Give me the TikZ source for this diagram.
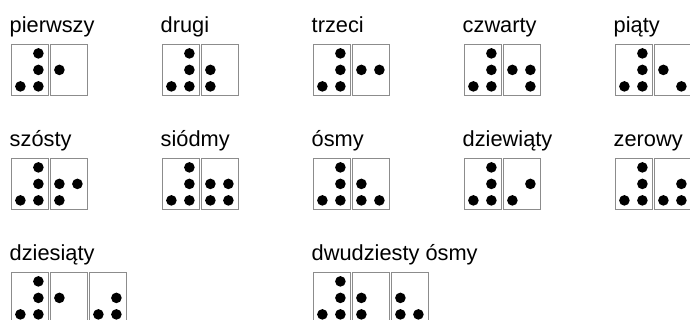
\documentclass[tikz,border=0pt]{standalone}
\usepackage{fontspec}
\setmainfont{Liberation Sans}
\usetikzlibrary{positioning}

% dots of one braille cell, numbered 1-3 down the left column, 4-6 down the right
\newcommand{\brailledots}[2]{%
    \foreach \d in #2{
        \pgfmathsetmacro\dx{ifthenelse(\d>3,9,-9)}
        \pgfmathsetmacro\dy{16.5*(mod(\d-1,3)-1)}
        \fill[black] ([shift={(\dx,\dy)}]#1.center) circle[radius=5.3pt];
    }%
}

\begin{document}
\begin{tikzpicture}[
    x=1pt, y=-1pt,
    lbl/.style  = {font=\fontsize{21.8}{26}\selectfont, anchor=base west, inner sep=0pt},
    cell/.style = {draw=black!45, line width=0.8pt, minimum width=37pt, minimum height=51pt, inner sep=0pt},
]
\useasboundingbox (0,0) rectangle (690,320);

%% ---- Ordinals 1-9 and 0: number sign + lower digit ----

\foreach \lab/\col/\row/\dig [count=\k] in {
    pierwszy/0/0/{2}, drugi/1/0/{2,3}, trzeci/2/0/{2,5}, czwarty/3/0/{2,5,6}, piąty/4/0/{2,6},
    szósty/0/1/{2,3,5}, siódmy/1/1/{2,3,5,6}, ósmy/2/1/{2,3,6}, dziewiąty/3/1/{3,5}, zerowy/4/1/{3,5,6}}{
    \node[lbl] (L\k) at ({9.5+151*\col}, {33+114*\row}) {\lab};
    \node[cell, anchor=north west] (S\k) at ({10.5+151*\col}, {44+114*\row}) {};
    \node[cell, right=1.2pt of S\k] (D\k) {};
    \brailledots{S\k}{{3,4,5,6}}
    \brailledots{D\k}{\dig}
}

%% ---- Two-digit ordinals ----

\node[lbl] (L11) at (9.5, 260) {dziesiąty};
\node[cell, anchor=north west] (S11) at (10.5, 272) {};
\node[cell, right=1.2pt of S11] (A11) {};
\node[cell, right=1.2pt of A11] (B11) {};
\brailledots{S11}{{3,4,5,6}}
\brailledots{A11}{{2}}
\brailledots{B11}{{3,5,6}}

\node[lbl] (L12) at (311.5, 260) {dwudziesty ósmy};
\node[cell, anchor=north west] (S12) at (312.5, 272) {};
\node[cell, right=1.2pt of S12] (A12) {};
\node[cell, right=1.2pt of A12] (B12) {};
\brailledots{S12}{{3,4,5,6}}
\brailledots{A12}{{2,3}}
\brailledots{B12}{{2,3,6}}

\end{tikzpicture}
\end{document}
